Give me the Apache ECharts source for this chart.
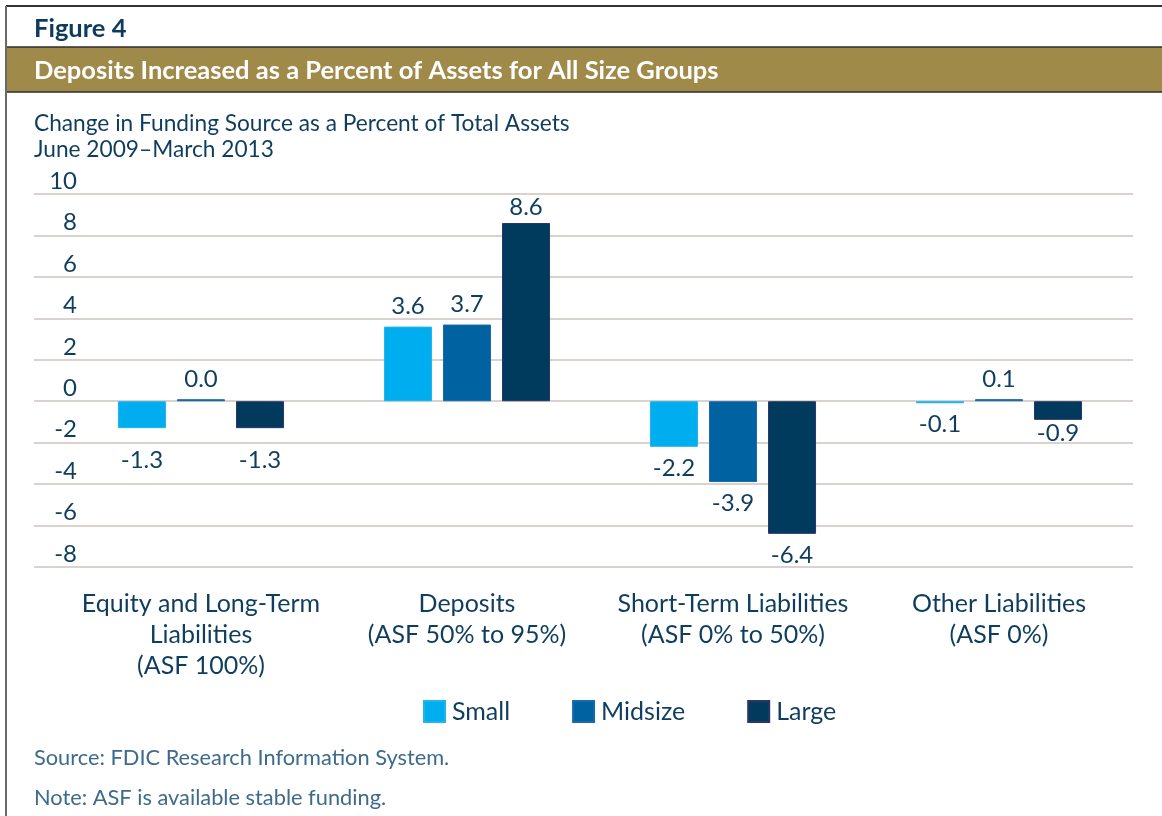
<!DOCTYPE html>
<html>
<head>
<meta charset="utf-8">
<script src="https://cdn.jsdelivr.net/npm/echarts@6/dist/echarts.min.js"></script>
<style>
html,body{margin:0;padding:0;background:#fff;}
#chart{width:1162px;height:816px;}
</style>
</head>
<body>
<div id="chart"></div>
<script>
const categories = [
  'Equity and Long-Term\nLiabilities\n(ASF 100%)',
  'Deposits\n(ASF 50% to 95%)',
  'Short-Term Liabilities\n(ASF 0% to 50%)',
  'Other Liabilities\n(ASF 0%)'
];
const smallValues = [-1.3, 3.6, -2.2, -0.1];
const midsizeValues = [0.0, 3.7, -3.9, 0.1];
const largeValues = [-1.3, 8.6, -6.4, -0.9];
const seriesNames = ['Small', 'Midsize', 'Large'];
const yMin = -8, yMax = 10, yStep = 2;

const FONT = 'Lato, "Source Sans Pro", sans-serif';
const TEXT = '#0f3d5e';
const colors = ['#00aeef', '#0062a0', '#003a5d'];
const borders = ['#1fb4ee', '#1a6aa8', '#2b3566'];

const chart = echarts.init(document.getElementById('chart'), null, {renderer: 'canvas'});

// label spacing tweaks (style only)
function labelDistance(seriesIdx, catIdx, v) {
  if (v >= 0) return seriesIdx === 2 && catIdx === 1 ? 4 : 8;
  if (catIdx === 0) return 20;
  if (catIdx === 3 && seriesIdx === 2) return 1;
  return 9;
}

function barSeries(idx, data) {
  return {
    name: seriesNames[idx],
    type: 'bar',
    xAxisIndex: 1,
    yAxisIndex: 1,
    data: data.map((v, c) => ({
      value: v,
      label: {position: v < 0 ? 'bottom' : 'top', distance: labelDistance(idx, c, v)}
    })),
    barWidth: 48,
    barGap: '23%',
    barMinHeight: 2,
    itemStyle: {color: colors[idx], borderColor: borders[idx], borderWidth: 1},
    label: {
      show: true,
      fontFamily: FONT,
      fontSize: 24,
      color: TEXT,
      formatter: p => p.value.toFixed(1),
    },
    labelLayout: {hideOverlap: false}
  };
}

const seriesList = [smallValues, midsizeValues, largeValues].map((d, i) => barSeries(i, d));

chart.setOption({
  animation: false,
  textStyle: {fontFamily: FONT},
  grid: [
    {left: 34, right: 29, top: 194, height: 373},
    {left: 68, right: 30, top: 194, height: 373}
  ],
  xAxis: [
    {gridIndex: 0, type: 'value', show: false, min: 0, max: 1},
    {
      gridIndex: 1, type: 'category', data: categories,
      axisLine: {show: false}, axisTick: {show: false},
      axisLabel: {
        margin: 21, fontFamily: FONT, fontSize: 25, color: TEXT,
        lineHeight: 31, interval: 0, align: 'center', verticalAlign: 'top'
      }
    }
  ],
  yAxis: [
    {
      gridIndex: 0, type: 'value', min: yMin, max: yMax, interval: yStep,
      axisLine: {show: false}, axisTick: {show: false},
      splitLine: {show: true, lineStyle: {color: '#cdc4c0', width: 1.5}},
      axisLabel: {
        inside: true, margin: 43, align: 'right', verticalAlign: 'bottom',
        fontFamily: FONT, fontSize: 24, color: TEXT, lineHeight: 26
      }
    },
    {gridIndex: 1, type: 'value', min: yMin, max: yMax, interval: yStep, show: false, splitLine: {show: false}}
  ],
  legend: {
    left: 418, top: 694,
    itemWidth: 21, itemHeight: 21, itemGap: 62,
    icon: 'rect',
    textStyle: {fontFamily: FONT, fontSize: 25, color: TEXT, padding: [0, 0, 0, 2]},
    data: seriesNames
  },
  series: seriesList,
  graphic: [
    {type: 'rect', z: 0, shape: {x: 6, y: 47, width: 1170, height: 45}, style: {fill: '#a08a4a', stroke: '#2e2e2e', lineWidth: 1.5}},
    {type: 'line', shape: {x1: 6, y1: 6, x2: 1162, y2: 6}, style: {stroke: '#333', lineWidth: 2}},
    {type: 'line', shape: {x1: 6, y1: 6, x2: 6, y2: 816}, style: {stroke: '#6a6a6a', lineWidth: 2}},
    {type: 'text', left: 34, top: 16, style: {text: 'Figure 4', fontFamily: FONT, fontWeight: 'bold', fontSize: 25.5, fill: '#0d3b5e'}},
    {type: 'text', left: 34, top: 58, style: {text: 'Deposits Increased as a Percent of Assets for All Size Groups', fontFamily: FONT, fontWeight: 'bold', fontSize: 25.5, fill: '#ffffff'}},
    {type: 'text', left: 34, top: 111, style: {text: 'Change in Funding Source as a Percent of Total Assets\nJune 2009\u2013March 2013', fontFamily: FONT, fontSize: 22.7, lineHeight: 26, fill: TEXT}},
    {type: 'text', left: 34, top: 747, style: {text: 'Source: FDIC Research Information System.', fontFamily: FONT, fontSize: 21.8, fill: '#3e6b8b'}},
    {type: 'text', left: 34, top: 787, style: {text: 'Note: ASF is available stable funding.', fontFamily: FONT, fontSize: 21.8, fill: '#3e6b8b'}}
  ]
});
</script>
</body>
</html>
